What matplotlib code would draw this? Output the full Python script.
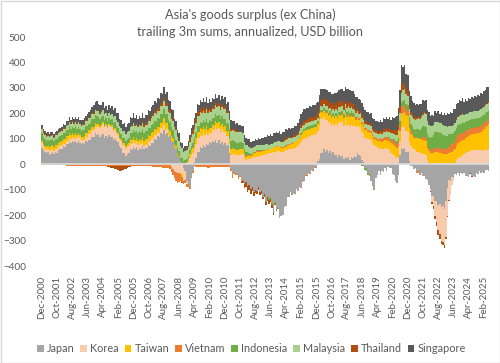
import numpy as np
import matplotlib
matplotlib.use("Agg")
import matplotlib.pyplot as plt
from matplotlib.patches import Rectangle, Patch

plt.rcParams['font.family'] = ['Lato', 'DejaVu Sans']

# Monthly data: Dec-2000 .. May-2025 (trailing 3m sums, annualized, USD bn)
japan = [
    62,
    55, 48, 44, 47, 38, 42, 47, 41, 49, 46, 55, 58,
    60, 70, 68, 80, 78, 88, 82, 92, 86, 90, 82, 90,
    84, 80, 84, 80, 90, 88, 96, 94, 108, 106, 122, 116,
    118, 106, 114, 118, 104, 112, 102, 115, 106, 108, 96, 100,
    90, 86, 70, 62, 46, 44, 34, 42, 46, 58, 56, 66,
    60, 68, 56, 62, 60, 72, 58, 64, 62, 74, 70, 82,
    84, 98, 96, 112, 106, 122, 118, 136, 116, 122, 106, 112,
    92, 88, 66, 58, 36, 28, 12, 8, -14, -26, -64, -78,
    -88, -50, -28, 10, 26, 50, 50, 66, 62, 74, 68, 80,
    74, 86, 82, 92, 86, 96, 84, 94, 80, 88, 76, 82,
    70, 76, 44, -18, -44, -30, -34, -38, -52, -46, -64, -60,
    -78, -70, -86, -80, -98, -90, -108, -100, -106, -90, -110, -106,
    -128, -118, -146, -124, -134, -126, -150, -185, -150, -178, -172, -210,
    -205, -200, -170, -165, -130, -128, -108, -118, -110, -114, -98, -104,
    -88, -90, -66, -60, -42, -44, -30, -34, -22, -24, -12, -14,
    12, 22, 44, 46, 60, 50, 54, 46, 52, 42, 48, 36,
    38, 26, 36, 28, 32, 22, 30, 26, 28, 18, 28, 24,
    34, 30, 44, 36, 34, 16, 10, -14, -16, -34, -40, -64,
    -82, -98, -56, -44, -26, -44, -26, -30, -16, -28, -12, -14,
    -16, -38, -42, -64, -72, -44, 36, 64, 60, 64, 50, 48,
    14, -8, -6, -18, -16, -28, -26, -38, -36, -48, -46, -58,
    -62, -80, -96, -124, -126, -144, -146, -160, -156, -170, -164, -174,
    -146, -94, -60, -64, -50, -54, -40, -44, -36, -48, -36, -38,
    -36, -48, -46, -50, -36, -48, -46, -50, -36, -38, -26, -34,
    -32, -34, -22, -24, -28,
]
korea = [
    20,
    15, 12, 10, 12, 15, 15, 12, 10, 12, 15, 15, 15,
    15, 15, 12, 12, 15, 18, 18, 15, 15, 18, 20, 20,
    18, 15, 12, 15, 18, 20, 22, 25, 28, 30, 30, 32,
    32, 35, 38, 40, 42, 40, 40, 38, 40, 38, 36, 35,
    32, 30, 28, 28, 30, 30, 28, 25, 25, 25, 25, 25,
    22, 20, 18, 20, 18, 15, 15, 15, 15, 18, 20, 20,
    20, 18, 18, 15, 18, 20, 22, 20, 20, 18, 10, 0,
    -10, -18, -25, -30, -35, -35, -35, -40, -45, -35, -15, 10,
    25, 35, 45, 50, 55, 55, 55, 50, 50, 48, 45, 45,
    40, 38, 40, 45, 50, 55, 55, 50, 48, 50, 50, 45,
    40, 35, 35, 38, 40, 40, 38, 35, 35, 38, 40, 40,
    24, 18, 20, 22, 24, 26, 28, 30, 30, 32, 32, 32,
    36, 38, 40, 42, 44, 46, 46, 48, 50, 50, 52, 52,
    50, 50, 52, 54, 56, 58, 58, 60, 62, 64, 68, 72,
    80, 88, 95, 100, 105, 105, 110, 110, 115, 115, 120, 120,
    120, 128, 135, 130, 125, 125, 120, 115, 115, 110, 110, 115,
    120, 125, 130, 135, 135, 130, 142, 128, 130, 132, 128, 125,
    120, 115, 110, 110, 112, 110, 108, 105, 105, 100, 100, 95,
    85, 75, 70, 65, 62, 60, 58, 60, 62, 60, 58, 55,
    45, 40, 35, 30, 25, 30, 50, 80, 85, 85, 82, 80,
    75, 70, 65, 60, 55, 50, 50, 45, 45, 42, 40, 35,
    15, 5, -10, -25, -40, -60, -80, -100, -120, -130, -140, -145,
    -140, -110, -80, -55, -30, -10, 5, 15, 25, 28, 30, 35,
    40, 45, 48, 50, 52, 55, 55, 55, 55, 55, 55, 55,
    52, 55, 58, 55, 58,
]
taiwan = [
    10,
    10, 10, 12, 12, 12, 15, 15, 15, 15, 15, 15, 15,
    15, 15, 18, 18, 18, 18, 15, 15, 15, 15, 12, 12,
    12, 12, 12, 15, 15, 15, 15, 15, 12, 12, 12, 12,
    10, 10, 8, 8, 5, 5, 5, 5, 5, 8, 8, 8,
    5, 5, 5, 8, 8, 10, 10, 12, 12, 15, 15, 15,
    15, 15, 18, 18, 18, 20, 20, 20, 22, 22, 22, 22,
    22, 22, 20, 20, 22, 22, 25, 25, 25, 22, 22, 20,
    18, 15, 15, 12, 10, 5, -5, -10, -5, 5, 10, 10,
    15, 20, 20, 20, 22, 22, 22, 25, 25, 25, 25, 25,
    22, 20, 20, 18, 18, 20, 22, 22, 22, 22, 22, 22,
    20, 20, 22, 22, 22, 20, 20, 20, 20, 20, 20, 20,
    15, 12, 12, 10, 10, 12, 15, 15, 18, 18, 18, 18,
    15, 15, 15, 15, 15, 15, 15, 18, 18, 18, 18, 18,
    15, 15, 15, 15, 18, 18, 20, 20, 22, 22, 22, 22,
    25, 28, 28, 30, 30, 30, 30, 30, 28, 28, 28, 28,
    28, 28, 25, 25, 25, 25, 28, 28, 28, 28, 30, 30,
    30, 30, 28, 28, 28, 28, 30, 32, 35, 35, 35, 35,
    30, 28, 28, 28, 30, 32, 32, 30, 30, 28, 28, 28,
    25, 25, 25, 25, 28, 30, 30, 32, 32, 35, 35, 38,
    38, 40, 40, 38, 40, 42, 45, 55, 58, 58, 60, 60,
    55, 50, 48, 45, 50, 55, 55, 55, 55, 55, 55, 55,
    50, 48, 45, 45, 45, 50, 50, 48, 45, 45, 40, 40,
    40, 40, 45, 48, 50, 55, 55, 58, 60, 60, 62, 62,
    56, 58, 60, 60, 62, 62, 64, 64, 66, 66, 68, 72,
    80, 84, 88, 94, 100,
]
vietnam = [
    -2,
    -2, -2, -3, -3, -3, -3, -3, -3, -3, -3, -3, -3,
    -3, -4, -4, -5, -5, -5, -5, -5, -5, -5, -5, -5,
    -6, -6, -6, -6, -6, -6, -6, -6, -6, -6, -6, -6,
    -6, -7, -7, -7, -8, -8, -8, -8, -8, -8, -8, -8,
    -8, -8, -8, -8, -8, -8, -7, -7, -7, -7, -7, -7,
    -7, -7, -7, -7, -7, -8, -8, -8, -8, -8, -8, -8,
    -9, -10, -10, -11, -12, -12, -13, -14, -14, -15, -15, -18,
    -20, -25, -30, -35, -40, -35, -25, -20, -15, -12, -10, -10,
    -8, -6, -6, -8, -10, -12, -12, -12, -12, -12, -12, -12,
    -14, -14, -12, -12, -12, -12, -12, -12, -12, -12, -12, -12,
    -12, -12, -10, -10, -10, -8, -8, -6, -6, -5, -5, -4,
    0, 2, 3, 3, 2, 2, 2, 3, 3, 3, 2, 2,
    2, 2, 2, 1, 0, -2, -2, 0, 1, 2, 2, 2,
    3, 4, 4, 3, 2, 2, 2, 2, 2, 2, 1, 0,
    -2, -3, -3, -4, -4, -3, -3, -3, -2, -2, -2, -1,
    0, 1, 2, 2, 2, 3, 3, 3, 3, 2, 2, 2,
    1, 0, 0, 1, 2, 3, 3, 4, 4, 4, 4, 4,
    5, 6, 7, 7, 7, 8, 8, 8, 8, 8, 8, 8,
    8, 9, 10, 10, 11, 12, 12, 12, 12, 12, 12, 12,
    14, 15, 15, 15, 15, 18, 20, 22, 25, 25, 24, 22,
    18, 15, 10, 5, 0, -5, -8, -5, 5, 10, 12, 12,
    10, 10, 12, 12, 14, 15, 15, 15, 16, 18, 18, 18,
    20, 22, 24, 26, 28, 28, 30, 30, 30, 30, 28, 28,
    28, 27, 26, 26, 26, 26, 25, 25, 25, 25, 24, 24,
    24, 22, 22, 22, 20,
]
indonesia = [
    30,
    28, 28, 27, 26, 26, 25, 25, 25, 24, 24, 24, 24,
    24, 24, 24, 25, 25, 25, 25, 26, 26, 26, 26, 26,
    25, 25, 26, 26, 26, 26, 27, 27, 28, 28, 28, 28,
    26, 26, 25, 25, 24, 23, 22, 22, 22, 22, 22, 22,
    22, 22, 22, 20, 20, 20, 20, 20, 22, 24, 26, 28,
    28, 28, 29, 29, 29, 30, 30, 30, 30, 30, 30, 30,
    32, 33, 33, 34, 33, 33, 34, 35, 36, 36, 36, 35,
    35, 32, 28, 25, 22, 20, 18, 15, 12, 10, 10, 12,
    15, 18, 20, 22, 22, 24, 25, 25, 26, 26, 27, 28,
    28, 28, 28, 28, 28, 28, 28, 29, 29, 30, 30, 30,
    30, 30, 32, 32, 32, 32, 30, 30, 30, 28, 28, 25,
    22, 18, 14, 10, 6, 4, 2, 2, 3, 4, 4, 3,
    2, 0, -3, -5, -8, -10, -10, -8, -5, -3, -2, -2,
    0, 0, 2, 3, 3, 2, 0, -2, -3, -2, 0, 2,
    4, 5, 6, 8, 9, 10, 10, 10, 10, 10, 10, 9,
    8, 8, 8, 9, 9, 10, 10, 10, 11, 12, 12, 12,
    12, 13, 13, 14, 14, 14, 14, 14, 14, 14, 13, 12,
    8, 5, 2, 0, -3, -5, -8, -10, -10, -8, -5, -3,
    -2, -2, 0, 0, 0, 1, 1, 1, 2, 2, 2, 2,
    4, 6, 8, 10, 12, 15, 18, 20, 22, 22, 22, 22,
    22, 24, 26, 28, 30, 32, 34, 36, 38, 42, 45, 45,
    45, 45, 48, 50, 55, 60, 62, 65, 62, 60, 58, 55,
    52, 50, 48, 45, 42, 40, 40, 40, 40, 40, 40, 40,
    38, 36, 34, 34, 34, 34, 34, 34, 35, 35, 36, 36,
    36, 34, 34, 34, 32,
]
malaysia = [
    18,
    16, 15, 15, 15, 15, 15, 14, 14, 14, 15, 15, 15,
    15, 15, 16, 16, 17, 17, 17, 17, 18, 18, 18, 18,
    18, 19, 19, 20, 20, 20, 20, 21, 21, 22, 22, 22,
    22, 22, 22, 22, 22, 22, 22, 22, 22, 23, 23, 23,
    24, 24, 24, 24, 25, 25, 25, 26, 26, 26, 27, 27,
    25, 25, 25, 25, 25, 25, 25, 26, 26, 26, 27, 27,
    30, 30, 30, 30, 30, 30, 30, 31, 31, 32, 32, 33,
    34, 35, 36, 38, 40, 40, 40, 40, 38, 36, 35, 35,
    34, 34, 35, 36, 37, 38, 38, 38, 38, 38, 38, 38,
    38, 38, 36, 35, 35, 35, 35, 35, 35, 36, 38, 40,
    40, 40, 40, 40, 40, 40, 40, 40, 40, 40, 38, 36,
    28, 26, 25, 24, 22, 21, 20, 20, 20, 20, 20, 20,
    22, 22, 21, 20, 18, 17, 17, 18, 18, 18, 18, 18,
    18, 18, 20, 22, 22, 22, 22, 20, 20, 20, 20, 20,
    20, 20, 20, 18, 17, 16, 16, 16, 16, 16, 16, 16,
    15, 15, 15, 14, 14, 14, 14, 14, 14, 15, 15, 16,
    16, 17, 18, 18, 18, 18, 18, 18, 18, 18, 18, 18,
    18, 18, 18, 17, 17, 17, 17, 17, 17, 17, 17, 18,
    18, 18, 18, 19, 19, 19, 19, 20, 20, 20, 20, 20,
    20, 20, 22, 22, 24, 28, 32, 40, 40, 40, 38, 36,
    34, 34, 36, 38, 40, 40, 42, 42, 44, 45, 48, 50,
    50, 48, 46, 44, 42, 42, 40, 38, 38, 38, 38, 38,
    38, 36, 34, 32, 32, 32, 32, 32, 32, 32, 32, 32,
    30, 30, 30, 30, 30, 30, 30, 30, 30, 30, 30, 30,
    30, 30, 30, 30, 30,
]
thailand = [
    5,
    5, 4, 4, 3, 3, 3, 3, 3, 3, 3, 4, 4,
    4, 4, 4, 4, 3, 3, 3, 3, 3, 3, 3, 3,
    3, 3, 4, 4, 4, 4, 4, 4, 4, 4, 4, 4,
    3, 3, 2, 2, 1, 0, -2, -4, -5, -6, -8, -10,
    -12, -15, -18, -18, -15, -12, -10, -8, -5, -2, 0, 2,
    3, 3, 4, 5, 5, 6, 6, 7, 8, 8, 9, 10,
    10, 10, 11, 11, 12, 12, 12, 12, 12, 12, 12, 12,
    10, 8, 6, 5, 4, 2, 0, -2, 0, 2, 4, 6,
    10, 12, 14, 16, 16, 16, 16, 15, 15, 15, 14, 14,
    12, 12, 10, 10, 10, 10, 10, 10, 10, 10, 10, 10,
    8, 8, 8, 8, 6, 6, 6, 6, 4, 0, -5, -10,
    -15, -20, -22, -20, -18, -15, -15, -15, -12, -12, -10, -10,
    -10, -12, -12, -15, -15, -12, -10, -8, -5, -3, 0, 2,
    3, 4, 5, 6, 6, 6, 6, 7, 7, 8, 8, 9,
    10, 12, 13, 14, 14, 14, 15, 15, 15, 16, 17, 18,
    20, 22, 24, 24, 24, 24, 24, 23, 23, 22, 22, 22,
    22, 22, 22, 20, 20, 20, 20, 20, 20, 20, 18, 18,
    15, 12, 12, 10, 10, 10, 10, 8, 8, 8, 8, 8,
    10, 10, 10, 10, 10, 10, 12, 12, 12, 12, 12, 12,
    14, 15, 16, 18, 20, 25, 28, 30, 28, 25, 22, 18,
    16, 14, 12, 10, 10, 8, 8, 8, 6, 6, 5, 5,
    2, 0, -5, -8, -10, -12, -15, -18, -18, -15, -12, -10,
    -8, -5, -3, -2, 0, 2, 2, 3, 3, 3, 3, 3,
    2, 2, 0, -2, -3, -3, -2, -2, 0, 0, 2, 2,
    4, 4, 5, 5, 5,
]
singapore = [
    10,
    10, 12, 9, 11, 10, 13, 10, 12, 11, 14, 12, 13,
    12, 14, 12, 15, 13, 16, 13, 17, 14, 16, 15, 18,
    15, 19, 16, 20, 18, 23, 20, 27, 24, 32, 28, 33,
    26, 30, 24, 28, 23, 28, 24, 29, 25, 31, 27, 32,
    28, 33, 28, 32, 29, 33, 29, 35, 31, 37, 33, 38,
    28, 33, 28, 32, 28, 33, 29, 32, 29, 34, 30, 33,
    33, 39, 34, 40, 35, 42, 36, 44, 35, 40, 33, 37,
    30, 34, 26, 30, 22, 26, 18, 22, 14, 18, 13, 18,
    16, 22, 20, 27, 24, 31, 28, 33, 28, 33, 28, 33,
    27, 33, 28, 33, 28, 34, 27, 33, 28, 33, 30, 37,
    30, 34, 28, 33, 28, 31, 26, 31, 26, 30, 26, 30,
    24, 28, 24, 29, 23, 27, 23, 28, 23, 28, 23, 27,
    26, 32, 30, 37, 34, 39, 33, 39, 34, 39, 33, 38,
    30, 35, 30, 35, 29, 35, 30, 35, 29, 36, 32, 39,
    39, 46, 42, 48, 42, 48, 42, 48, 42, 48, 42, 48,
    42, 48, 41, 46, 37, 43, 37, 43, 37, 44, 39, 47,
    42, 50, 45, 52, 47, 54, 46, 54, 46, 52, 44, 51,
    45, 50, 42, 48, 42, 47, 41, 46, 39, 44, 37, 43,
    35, 41, 35, 41, 35, 41, 35, 43, 37, 43, 39, 45,
    39, 48, 45, 54, 52, 64, 64, 80, 66, 70, 58, 64,
    54, 60, 50, 56, 46, 52, 44, 52, 44, 52, 44, 52,
    42, 48, 38, 44, 34, 42, 34, 42, 36, 46, 40, 49,
    42, 52, 46, 56, 50, 59, 52, 60, 52, 60, 52, 60,
    52, 60, 51, 59, 51, 59, 52, 60, 52, 60, 52, 60,
    52, 60, 54, 62, 58,
]

series_names = ["Japan", "Korea", "Taiwan", "Vietnam", "Indonesia",
                "Malaysia", "Thailand", "Singapore"]
series_colors = ["#A5A5A5", "#F8CBAD", "#FFC000", "#ED7D31", "#70AD47",
                 "#A9D18E", "#B04E0F", "#595959"]
tick_labels = ["Dec-2000", "Oct-2001", "Aug-2002", "Jun-2003", "Apr-2004",
               "Feb-2005", "Dec-2005", "Oct-2006", "Aug-2007", "Jun-2008",
               "Apr-2009", "Feb-2010", "Dec-2010", "Oct-2011", "Aug-2012",
               "Jun-2013", "Apr-2014", "Feb-2015", "Dec-2015", "Oct-2016",
               "Aug-2017", "Jun-2018", "Apr-2019", "Feb-2020", "Dec-2020",
               "Oct-2021", "Aug-2022", "Jun-2023", "Apr-2024", "Feb-2025"]
tick_step = 10

data = [japan, korea, taiwan, vietnam, indonesia, malaysia, thailand, singapore]
n = len(japan)
for d in data:
    assert len(d) == n, len(d)

text_color = "#595959"
fig = plt.figure(figsize=(5.0, 3.63), dpi=100)
ax = fig.add_axes([0.0824, 0.2672, 0.8962, 0.6308])

x = np.arange(n)
pos_bottom = np.zeros(n)
neg_bottom = np.zeros(n)
handles = []
for name, vals, col in zip(series_names, data, series_colors):
    v = np.asarray(vals, dtype=float)
    pos = np.where(v > 0, v, 0.0)
    neg = np.where(v < 0, v, 0.0)
    ax.bar(x, pos, bottom=pos_bottom, width=1.0, color=col, linewidth=0)
    ax.bar(x, neg, bottom=neg_bottom, width=1.0, color=col, linewidth=0)
    pos_bottom += pos
    neg_bottom += neg
    handles.append(Patch(facecolor=col, edgecolor='none', label=name))

ax.axhline(0, color="#D9D9D9", lw=1.3, zorder=3)
ax.set_xlim(-0.5, n - 0.5)
ax.set_ylim(-400, 500)
ax.set_yticks(np.arange(-400, 501, 100))
ax.set_xticks(np.arange(len(tick_labels)) * tick_step)
ax.set_xticklabels(tick_labels, rotation=90, fontsize=7, color=text_color)
ax.tick_params(axis='x', length=0, pad=7)
ax.tick_params(axis='y', length=0, pad=11, labelsize=7.2, labelcolor=text_color)
for lab in ax.get_yticklabels():
    lab.set_horizontalalignment('right')
for s in ax.spines.values():
    s.set_visible(False)

fig.text(0.5, 1 - 15 / 363, "Asia's goods surplus (ex China)", ha='center', va='center',
         fontsize=9.2, color=text_color)
fig.text(0.5, 1 - 32 / 363, "trailing 3m sums, annualized, USD billion", ha='center', va='center',
         fontsize=9.2, color=text_color)

leg = fig.legend(handles=handles, loc='center', bbox_to_anchor=(0.503, 1 - 349 / 363), ncol=8,
                 frameon=False, fontsize=7.8, handlelength=0.6, handleheight=0.6,
                 handletextpad=0.3, columnspacing=0.55, labelcolor=text_color)

fig.add_artist(Rectangle((0.001, 0.001), 0.998, 0.997, transform=fig.transFigure,
                         fill=False, edgecolor="#D9D9D9", lw=1.0))

fig.savefig("out.png", dpi=100)
